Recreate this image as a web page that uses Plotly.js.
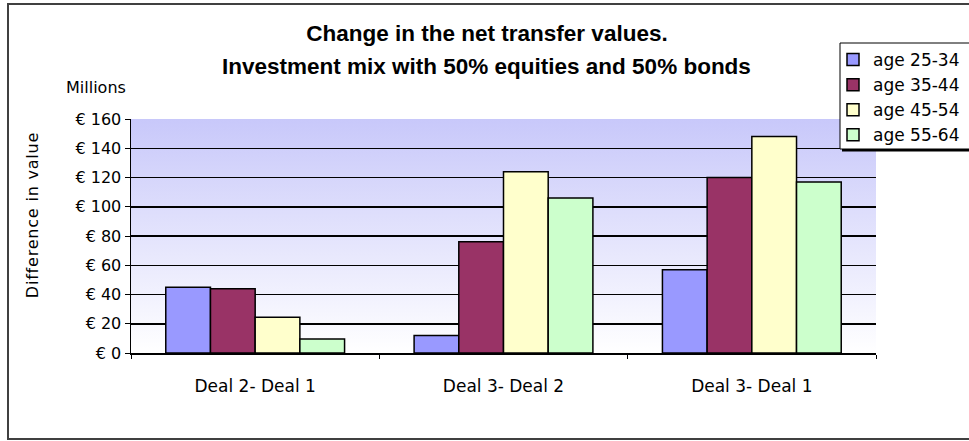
<!DOCTYPE html>
<html>
<head>
<meta charset="utf-8">
<script src="https://cdn.plot.ly/plotly-3.0.1.min.js"></script>
<style>
  html, body { margin: 0; padding: 0; background: #ffffff; overflow: hidden; }
  #chart { width: 969px; height: 441px; }
</style>
</head>
<body>
<div id="chart"></div>
<script>
// ---- data ----
const categories = ['Deal 2- Deal 1', 'Deal 3- Deal 2', 'Deal 3- Deal 1'];
const seriesNames = ['age 25-34', 'age 35-44', 'age 45-54', 'age 55-64'];
const age2534 = [45, 12, 57];
const age3544 = [44, 76, 120];
const age4554 = [24.5, 124, 148];
const age5564 = [9.5, 106, 117];
const yTickVals = [0, 20, 40, 60, 80, 100, 120, 140, 160];
const yTickText = yTickVals.map(v => '€ ' + v);
const titleLine1 = 'Change in the net transfer values.';
const titleLine2 = 'Investment mix with 50% equities and 50% bonds';
const unitsLabel = 'Millions';
const yTitle = 'Difference in value';

// ---- styles ----
const colors = ['#9999FF', '#993366', '#FFFFCC', '#CCFFCC'];
const TFONT = 'Liberation Sans, Arial, sans-serif';
const FONT = 'DejaVu Sans, Verdana, sans-serif';
const W = 969, H = 441;
const M = { l: 131, r: 93, t: 119, b: 88, autoexpand: false };
const plotW = W - M.l - M.r, plotH = H - M.t - M.b;
const px = x => (x - M.l) / plotW;          // pixel -> paper x
const py = y => (H - M.b - y) / plotH;      // pixel -> paper y

const values = [age2534, age3544, age4554, age5564];
const traces = values.map((vals, i) => ({
  type: 'bar',
  name: seriesNames[i],
  x: categories,
  y: vals,
  marker: { color: colors[i], line: { color: '#000000', width: 1.5 } },
  hoverinfo: 'skip'
}));

const gradSvg = '<svg xmlns="http://www.w3.org/2000/svg" width="100" height="100" preserveAspectRatio="none">' +
  '<defs><linearGradient id="g" x1="0" y1="0" x2="0" y2="1">' +
  '<stop offset="0" stop-color="#C8C8FA"/><stop offset="1" stop-color="#FFFFFF"/>' +
  '</linearGradient></defs><rect width="100" height="100" fill="url(#g)"/></svg>';

const layout = {
  width: W, height: H,
  margin: M,
  paper_bgcolor: '#ffffff',
  plot_bgcolor: 'rgba(0,0,0,0)',
  font: { family: FONT, color: '#000000', size: 16 },
  title: {
    text: titleLine1,
    font: { family: TFONT, size: 22.5, weight: 'bold', color: '#000000' },
    xref: 'container', x: 487 / W, xanchor: 'center',
    yref: 'container', y: 1 - 33 / H, yanchor: 'middle'
  },
  barmode: 'group',
  bargap: 0.28,
  bargroupgap: 0,
  showlegend: true,
  legend: {
    x: px(833), xanchor: 'left',
    y: py(42), yanchor: 'top',
    bgcolor: 'rgba(0,0,0,0)', borderwidth: 0,
    font: { family: FONT, size: 17, color: '#000000' },
    tracegroupgap: 0
  },
  xaxis: {
    type: 'category',
    showline: true, linecolor: '#000000', linewidth: 1.5,
    ticks: 'outside', tickson: 'boundaries', ticklen: 4, tickcolor: '#000000', tickwidth: 1,
    ticklabelstandoff: 17,
    tickfont: { family: FONT, size: 17, color: '#000000' },
    showgrid: false, zeroline: false
  },
  yaxis: {
    range: [0, 160],
    tickvals: yTickVals, ticktext: yTickText,
    showline: true, linecolor: '#000000', linewidth: 1.5,
    ticks: 'outside', ticklen: 5, tickcolor: '#000000', tickwidth: 1,
    tickfont: { family: FONT, size: 16, color: '#000000' },
    showgrid: true, gridcolor: '#000000', gridwidth: 1.5,
    zeroline: false
  },
  images: [{
    source: 'data:image/svg+xml;charset=utf-8,' + encodeURIComponent(gradSvg),
    xref: 'paper', yref: 'paper', x: 0, y: 1, sizex: 1, sizey: 1,
    xanchor: 'left', yanchor: 'top', sizing: 'stretch', layer: 'below'
  }],
  annotations: [
    { text: titleLine2, xref: 'paper', yref: 'paper', x: px(486), y: py(67),
      xanchor: 'center', yanchor: 'middle', showarrow: false,
      font: { family: TFONT, size: 22.5, weight: 'bold', color: '#000000' } },
    { text: unitsLabel, xref: 'paper', yref: 'paper', x: px(96), y: py(87),
      xanchor: 'center', yanchor: 'middle', showarrow: false,
      font: { family: FONT, size: 16, color: '#000000' } },
    { text: yTitle, xref: 'paper', yref: 'paper', x: px(31.5), y: py(215),
      xanchor: 'center', yanchor: 'middle', showarrow: false, textangle: -90,
      font: { family: FONT, size: 16, color: '#000000' } }
  ],
  shapes: [
    // outer chart border (right side runs past the picture edge)
    { type: 'rect', xref: 'paper', yref: 'paper', x0: px(8), x1: px(1200), y0: py(439), y1: py(4),
      line: { color: '#404040', width: 2 }, fillcolor: 'rgba(0,0,0,0)', layer: 'below' },
    // legend shadow
    { type: 'rect', xref: 'paper', yref: 'paper', x0: px(842), x1: px(1200), y0: py(151.5), y1: py(45),
      line: { width: 0 }, fillcolor: '#000000', layer: 'above' },
    // legend box
    { type: 'rect', xref: 'paper', yref: 'paper', x0: px(840), x1: px(1200), y0: py(149), y1: py(43),
      line: { color: '#000000', width: 1 }, fillcolor: '#ffffff', layer: 'above' }
  ]
};

Plotly.newPlot('chart', traces, layout, { displayModeBar: false, staticPlot: true }).then(() => {
  document.querySelectorAll('.annotation-text').forEach(t => {
    if (t.textContent === yTitle) t.style.letterSpacing = '0.8px';
  });
});
</script>
</body>
</html>
